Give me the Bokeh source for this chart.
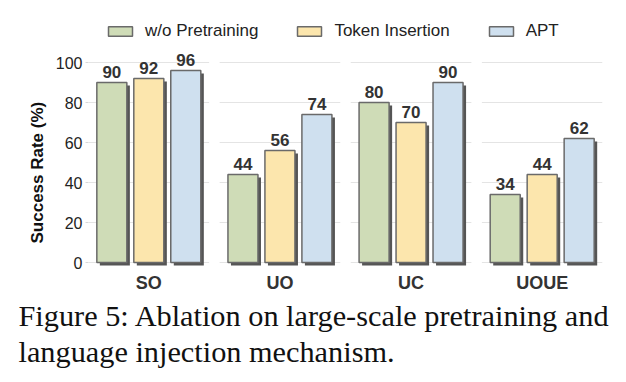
from bokeh.plotting import figure
from bokeh.models import Range1d, FixedTicker, Legend, LegendItem, ColumnDataSource, Title
from bokeh.embed import file_html
from bokeh.resources import INLINE
from bokeh.core.properties import value

# Success rates per task for each ablation variant
tasks = ["SO", "UO", "UC", "UOUE"]
series_names = ["w/o Pretraining", "Token Insertion", "APT"]
wo_pretraining = [90, 44, 80, 34]
token_insertion = [92, 56, 70, 44]
apt = [96, 74, 90, 62]
y_ticks = [0, 20, 40, 60, 80, 100]

y_title = "Success Rate (%)"
caption = "Figure 5:  Ablation on large-scale pretraining and\nlanguage injection mechanism."

series_values = [wo_pretraining, token_insertion, apt]
fills = ["#cfdcb7", "#fce6ad", "#cfe0ef"]
offsets = [-0.282, 0.0, 0.282]
bar_w = 0.229
shadow_dx = 0.023
shadow_dy = 1.5
group_half = 0.46

SANS = "Liberation Sans"
SERIF = "Liberation Serif"

# headroom above 100 leaves space for the legend inside the plot area
p = figure(
    width=626, height=382,
    x_range=Range1d(-group_half, len(tasks) - 1 + group_half),
    y_range=Range1d(-2, 126),
    output_backend="svg", toolbar_location=None,
    min_border_left=88, min_border_right=24,
    min_border_top=10, min_border_bottom=116,
)
p.outline_line_color = None
p.xgrid.visible = False
p.ygrid.visible = False

# per-group horizontal gridlines
gx0, gx1, gy = [], [], []
for i in range(len(tasks)):
    for t in y_ticks:
        gx0.append(i - group_half)
        gx1.append(i + group_half)
        gy.append(t)
p.segment(x0=gx0, x1=gx1, y0=gy, y1=gy, line_color="#e4e4e4", line_width=1.2)

legend_items = []
for name, vals, fill, off in zip(series_names, series_values, fills, offsets):
    xs = [i + off for i in range(len(tasks))]
    # drop shadow behind each bar
    p.vbar(x=[x + shadow_dx for x in xs], top=[v - shadow_dy for v in vals],
           bottom=-shadow_dy, width=bar_w, fill_color="#555555", line_color=None)
    src = ColumnDataSource(dict(x=xs, top=vals, lab=[str(v) for v in vals],
                                ly=[v + 2.5 for v in vals]))
    r = p.vbar(x="x", top="top", bottom=0, width=bar_w, source=src,
               fill_color=fill, line_color="#6a6a6a", line_width=1.5)
    p.text(x="x", y="ly", text="lab", source=src, text_align="center",
           text_baseline="bottom", text_font=value(SANS), text_font_size="17px",
           text_font_style="bold", text_color="#333333")
    legend_items.append(LegendItem(label=name, renderers=[r]))

# axes
p.xaxis.ticker = FixedTicker(ticks=list(range(len(tasks))))
p.xaxis.major_label_overrides = {i: t for i, t in enumerate(tasks)}
p.xaxis.axis_line_color = None
p.xaxis.major_tick_line_color = None
p.xaxis.major_tick_out = 0
p.xaxis.major_tick_in = 0
p.xaxis.minor_tick_line_color = None
p.xaxis.major_label_text_font = SANS
p.xaxis.major_label_text_font_size = "18px"
p.xaxis.major_label_text_font_style = "bold"
p.xaxis.major_label_text_color = "#333333"
p.xaxis.major_label_standoff = 6

p.yaxis.ticker = FixedTicker(ticks=y_ticks)
p.yaxis.axis_line_color = None
p.yaxis.minor_tick_line_color = None
p.yaxis.major_tick_line_color = "#d8d8d8"
p.yaxis.major_tick_in = 0
p.yaxis.major_tick_out = 3
p.yaxis.major_label_standoff = 3
p.yaxis.major_label_text_font = SANS
p.yaxis.major_label_text_font_size = "16px"
p.yaxis.major_label_text_color = "#222222"

# y-axis title, placed along the 0-100 span rather than the whole plot area
p.add_layout(Title(text=y_title, align="left", offset=23, standoff=11,
                   text_font=SANS, text_font_size="17px", text_font_style="bold",
                   text_color="#111111"), "left")

legend = Legend(
    items=legend_items, orientation="horizontal", location=(17, 225),
    border_line_color=None, background_fill_alpha=0,
    glyph_width=30, glyph_height=12, label_standoff=10, spacing=36,
    padding=0, margin=0,
    label_text_font=SANS, label_text_font_size="17px", label_text_color="#222222",
)
p.add_layout(legend, "center")

# figure caption below the axis
p.add_layout(Title(text=caption, align="left", offset=-70, standoff=4,
                   text_font=SERIF, text_font_size="30.3px", text_line_height=1.07,
                   text_font_style="normal", text_color="#111111"), "below")

open("out.html", "w").write(file_html(p, INLINE))
